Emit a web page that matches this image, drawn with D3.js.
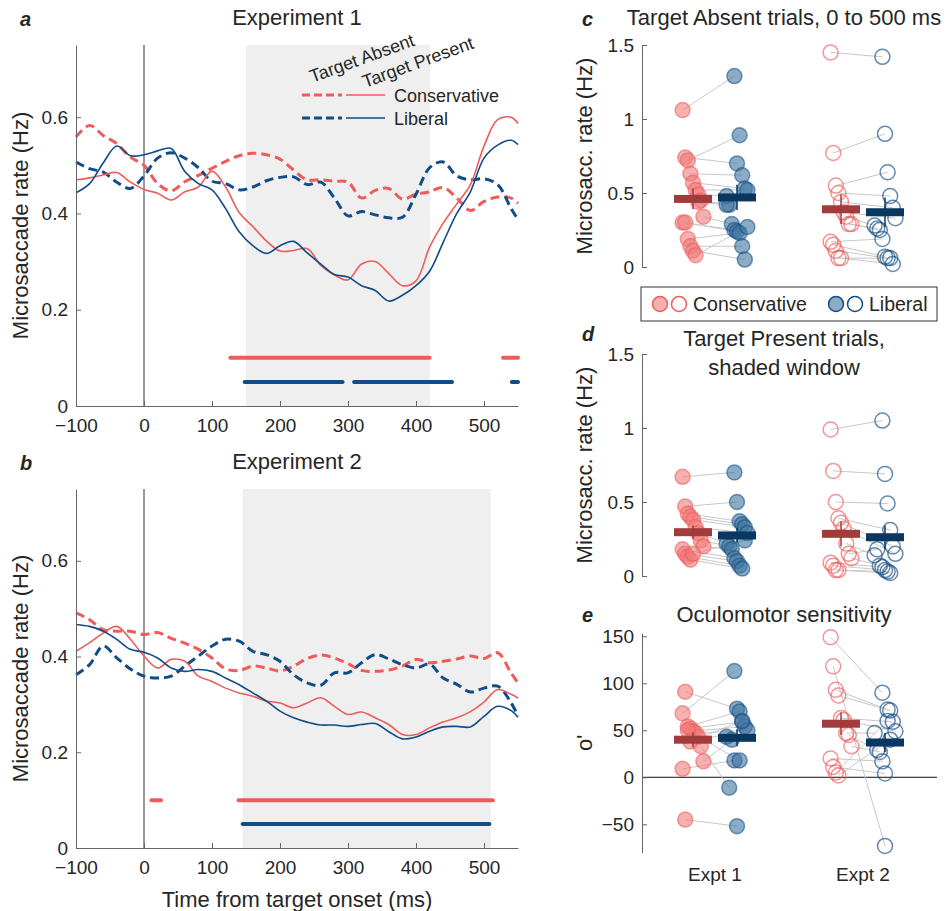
<!DOCTYPE html>
<html>
<head>
<meta charset="utf-8">
<script src="https://d3js.org/d3.v7.min.js"></script>
<style>
  body { margin: 0; background: #fff; }
  svg text { font-family: "Liberation Sans", Arial, Helvetica, sans-serif; fill: #262626; }
</style>
</head>
<body>
<svg id="fig" width="951" height="911"></svg>
<script>
// ---- time courses (ms, Hz) ----
var time = [-100,-80,-60,-40,-20,0,20,40,60,80,100,120,140,160,180,200,220,240,260,280,300,320,340,360,380,400,420,440,460,480,500,520,540,550];

// Experiment 1
var e1AbsCons  = [0.559,0.583,0.562,0.545,0.517,0.500,0.462,0.447,0.466,0.479,0.494,0.508,0.520,0.525,0.522,0.513,0.490,0.470,0.470,0.467,0.465,0.432,0.448,0.452,0.430,0.440,0.445,0.454,0.432,0.406,0.425,0.434,0.432,0.421];
var e1AbsLib   = [0.507,0.493,0.486,0.465,0.452,0.478,0.515,0.526,0.515,0.495,0.467,0.462,0.449,0.455,0.468,0.475,0.476,0.460,0.465,0.432,0.395,0.404,0.397,0.391,0.392,0.440,0.495,0.507,0.478,0.470,0.472,0.460,0.410,0.387];
var e1PresCons = [0.470,0.474,0.480,0.485,0.465,0.450,0.442,0.428,0.445,0.455,0.488,0.455,0.402,0.373,0.343,0.322,0.323,0.327,0.292,0.272,0.262,0.295,0.300,0.275,0.250,0.260,0.330,0.380,0.420,0.460,0.540,0.595,0.600,0.587];
var e1PresLib  = [0.443,0.462,0.505,0.540,0.520,0.522,0.530,0.535,0.487,0.462,0.449,0.410,0.362,0.333,0.317,0.333,0.342,0.318,0.295,0.273,0.268,0.250,0.240,0.218,0.230,0.250,0.280,0.340,0.400,0.445,0.515,0.542,0.552,0.543];

// Experiment 2
var e2AbsCons  = [0.491,0.477,0.456,0.453,0.453,0.446,0.450,0.438,0.428,0.415,0.397,0.374,0.371,0.380,0.376,0.370,0.380,0.396,0.403,0.397,0.385,0.371,0.369,0.372,0.380,0.394,0.387,0.390,0.395,0.401,0.396,0.408,0.365,0.345];
var e2AbsLib   = [0.362,0.383,0.422,0.397,0.374,0.359,0.355,0.359,0.380,0.401,0.422,0.436,0.432,0.411,0.404,0.390,0.362,0.345,0.340,0.366,0.366,0.387,0.404,0.395,0.383,0.376,0.384,0.355,0.342,0.326,0.334,0.338,0.303,0.275];
var e2PresCons = [0.411,0.429,0.449,0.463,0.436,0.401,0.376,0.394,0.390,0.359,0.348,0.334,0.324,0.317,0.307,0.303,0.293,0.303,0.314,0.296,0.279,0.284,0.272,0.258,0.237,0.237,0.251,0.263,0.272,0.285,0.305,0.331,0.321,0.313];
var e2PresLib  = [0.467,0.463,0.453,0.436,0.415,0.409,0.397,0.376,0.369,0.373,0.369,0.355,0.341,0.324,0.307,0.286,0.272,0.263,0.257,0.257,0.254,0.258,0.260,0.243,0.228,0.232,0.244,0.253,0.254,0.253,0.275,0.296,0.287,0.273];

// significant clusters and analysis windows (ms)
var sig1Cons = [[127,420],[528,550]];
var sig1Lib  = [[148,292],[309,453],[541,550]];
var sig2Cons = [[11,25],[139,513]];
var sig2Lib  = [[145,508]];
var win1 = [150,421];
var win2 = [145,510];

var timeTicks = [-100,0,100,200,300,400,500];
var rateTicks = [0,0.2,0.4,0.6];

// ---- per-observer values ----
var groups = ["Expt 1","Expt 2"];

// c: target absent, 0-500 ms (Hz)
var cE1Cons = [1.06,0.74,0.72,0.63,0.57,0.52,0.49,0.45,0.34,0.30,0.30,0.19,0.14,0.11,0.08,0.44];
var cE1Lib  = [1.29,0.70,0.89,0.62,0.53,0.52,0.48,0.42,0.29,0.25,0.24,0.23,0.14,0.05,0.27,0.42];
var cE2Cons = [1.45,0.77,0.55,0.50,0.44,0.37,0.34,0.29,0.29,0.17,0.15,0.11,0.06,0.06];
var cE2Lib  = [1.42,0.90,0.64,0.48,0.40,0.33,0.28,0.26,0.25,0.19,0.07,0.06,0.06,0.02];
var cMean = [0.46,0.47,0.39,0.37];
var cSem  = [0.07,0.085,0.10,0.10];

// d: target present, shaded window (Hz)
var dE1Cons = [0.67,0.47,0.42,0.40,0.38,0.33,0.29,0.24,0.20,0.18,0.15,0.13,0.11,0.15];
var dE1Lib  = [0.70,0.50,0.37,0.35,0.33,0.29,0.22,0.20,0.18,0.12,0.10,0.07,0.05,0.24];
var dE2Cons = [0.99,0.71,0.50,0.39,0.36,0.32,0.22,0.15,0.12,0.09,0.07,0.04,0.04];
var dE2Lib  = [1.05,0.69,0.49,0.31,0.20,0.15,0.14,0.18,0.07,0.06,0.04,0.03,0.02];
var dMean = [0.296,0.274,0.285,0.262];
var dSem  = [0.045,0.05,0.085,0.08];

// e: oculomotor sensitivity o'
var eE1Cons = [68,91,54,52,49,47,43,33,17,9,-45,50,38];
var eE1Lib  = [113,73,70,59,54,50,43,-11,40,18,-52,18,60];
var eE2Cons = [149,118,93,87,63,61,47,45,33,20,11,5,2];
var eE2Lib  = [90,-73,72,71,59,49,47,29,27,17,4,60,40];
var eMean = [40,42,57,37];
var eSem  = [8,9,12,10];

// ---- colours ----
var red = "#ef5b5b", blue = "#114c86";
var redDark = "#a23b3b", blueDark = "#0a375f";
var fillRed = "#f07c7c", fillBlue = "#40739f";

var svg = d3.select("#fig");
var fmt = d3.format("~g");

function tickStyle(g) {
  g.select(".domain").attr("stroke", "#666");
  g.selectAll(".tick line").attr("stroke", "#666");
  g.selectAll(".tick text").style("font-size", "19px").attr("fill", "#333");
}

// ---------- time course panels ----------
function timePanel(top, bottom, series, sigCons, sigLib, win, title, letter, showXLabel) {
  var x = d3.scaleLinear().domain([-100,550]).range([76,518]);
  var y = d3.scaleLinear().domain([0,0.75]).range([bottom, top]);
  var g = svg.append("g");

  g.append("rect")
    .attr("x", x(win[0])).attr("y", top)
    .attr("width", x(win[1]) - x(win[0])).attr("height", bottom - top)
    .attr("fill", "#efefef");

  g.append("line")
    .attr("x1", x(0)).attr("x2", x(0)).attr("y1", top).attr("y2", bottom)
    .attr("stroke", "#555").attr("stroke-width", 1.2);

  var line = d3.line()
    .x(function(d, i) { return x(time[i]); })
    .y(function(d) { return y(d); })
    .curve(d3.curveCatmullRom);

  series.forEach(function(s) {
    g.append("path")
      .attr("d", line(s.values))
      .attr("fill", "none")
      .attr("stroke", s.color)
      .attr("stroke-width", s.dashed ? 3 : 1.6)
      .attr("stroke-dasharray", s.dashed ? "9,5" : null);
  });

  sigCons.forEach(function(r) {
    g.append("line")
      .attr("x1", x(r[0])).attr("x2", x(r[1]))
      .attr("y1", y(0.1)).attr("y2", y(0.1))
      .attr("stroke", red).attr("stroke-width", 4).attr("stroke-linecap", "round");
  });
  sigLib.forEach(function(r) {
    g.append("line")
      .attr("x1", x(r[0])).attr("x2", x(r[1]))
      .attr("y1", y(0.05)).attr("y2", y(0.05))
      .attr("stroke", blue).attr("stroke-width", 4).attr("stroke-linecap", "round");
  });

  g.append("g")
    .attr("transform", "translate(0," + bottom + ")")
    .call(d3.axisBottom(x).tickValues(timeTicks).tickSizeInner(-5).tickSizeOuter(0).tickPadding(13))
    .call(tickStyle);
  g.append("g")
    .attr("transform", "translate(76,0)")
    .call(d3.axisLeft(y).tickValues(rateTicks).tickFormat(fmt).tickSizeInner(-5).tickSizeOuter(0).tickPadding(8))
    .call(tickStyle);

  g.append("text").attr("x", 297).attr("y", top - 20).attr("text-anchor", "middle")
    .style("font-size", "22px").text(title);
  g.append("text").attr("x", 20).attr("y", top - 19)
    .style("font-size", "20px").style("font-weight", "bold").style("font-style", "italic")
    .text(letter);
  g.append("text")
    .attr("transform", "translate(28," + ((top + bottom) / 2) + ") rotate(-90)")
    .attr("text-anchor", "middle").style("font-size", "22px")
    .text("Microsaccade rate (Hz)");
  if (showXLabel) {
    g.append("text").attr("x", 297).attr("y", bottom + 59).attr("text-anchor", "middle")
      .style("font-size", "22px").text("Time from target onset (ms)");
  }
}

timePanel(45, 406, [
  {values: e1AbsCons, color: red, dashed: true},
  {values: e1AbsLib, color: blue, dashed: true},
  {values: e1PresCons, color: red, dashed: false},
  {values: e1PresLib, color: blue, dashed: false}
], sig1Cons, sig1Lib, win1, "Experiment 1", "a", false);

timePanel(489, 848, [
  {values: e2AbsCons, color: red, dashed: true},
  {values: e2AbsLib, color: blue, dashed: true},
  {values: e2PresCons, color: red, dashed: false},
  {values: e2PresLib, color: blue, dashed: false}
], sig2Cons, sig2Lib, win2, "Experiment 2", "b", true);

// legend inside panel a
var lg = svg.append("g");
lg.append("text").attr("transform", "translate(364,64) rotate(-20)")
  .attr("text-anchor", "middle").style("font-size", "18px").text("Target Absent");
lg.append("text").attr("transform", "translate(420,68) rotate(-20)")
  .attr("text-anchor", "middle").style("font-size", "18px").text("Target Present");
[{c: red, y: 95, t: "Conservative"}, {c: blue, y: 118, t: "Liberal"}].forEach(function(r) {
  lg.append("line").attr("x1", 302).attr("x2", 342).attr("y1", r.y).attr("y2", r.y)
    .attr("stroke", r.c).attr("stroke-width", 3).attr("stroke-dasharray", "8,4");
  lg.append("line").attr("x1", 346).attr("x2", 385).attr("y1", r.y).attr("y2", r.y)
    .attr("stroke", r.c).attr("stroke-width", 1.6);
  lg.append("text").attr("x", 394).attr("y", r.y + 7).style("font-size", "18px").text(r.t);
});

// ---------- observer panels ----------
var gx = d3.scalePoint().domain(groups).range([715, 863]);
var off = 22;

function jitter(i) { return (((i * 37) % 9) - 4) * 2.6; }

function scatterPanel(top, bottom, domain, ticks, sets, means, sems, letter, titles, ylab, zeroLine) {
  var y = d3.scaleLinear().domain(domain).range([bottom, top]);
  var g = svg.append("g");

  if (zeroLine) {
    g.append("line").attr("x1", 642).attr("x2", 937).attr("y1", y(0)).attr("y2", y(0))
      .attr("stroke", "#111").attr("stroke-width", 1);
  }

  sets.forEach(function(s, k) {
    var xc = gx(groups[k]) - off, xl = gx(groups[k]) + off;
    var open = k === 1;
    // pair lines
    s[0].forEach(function(v, i) {
      g.append("line")
        .attr("x1", xc + jitter(i)).attr("y1", y(v))
        .attr("x2", xl + jitter(i + 3)).attr("y2", y(s[1][i]))
        .attr("stroke", "#c8c8c8").attr("stroke-width", 1);
    });
    [[s[0], xc, 0, fillRed, red], [s[1], xl, 3, fillBlue, blue]].forEach(function(p) {
      g.selectAll(null).data(p[0]).enter().append("circle")
        .attr("cx", function(d, i) { return p[1] + jitter(i + p[2]); })
        .attr("cy", function(d) { return y(d); })
        .attr("r", 7.5)
        .attr("fill", open ? "none" : p[3])
        .attr("fill-opacity", 0.6)
        .attr("stroke", p[4])
        .attr("stroke-opacity", open ? 0.65 : 0.55)
        .attr("stroke-width", 1.5);
    });
  });

  means.forEach(function(m, j) {
    var k = Math.floor(j / 2);
    var cx = gx(groups[k]) + (j % 2 === 0 ? -off : off);
    var col = j % 2 === 0 ? redDark : blueDark;
    g.append("rect").attr("x", cx - 19).attr("y", y(m) - 4).attr("width", 38).attr("height", 8)
      .attr("fill", col);
    g.append("line").attr("x1", cx).attr("x2", cx)
      .attr("y1", y(m - sems[j])).attr("y2", y(m + sems[j]))
      .attr("stroke", col).attr("stroke-width", 1.5);
  });

  g.append("g")
    .attr("transform", "translate(642,0)")
    .call(d3.axisLeft(y).tickValues(ticks).tickFormat(fmt).tickSizeInner(-5).tickSizeOuter(0).tickPadding(8))
    .call(tickStyle);

  g.append("text").attr("x", 582).attr("y", titles.letterY)
    .style("font-size", "20px").style("font-weight", "bold").style("font-style", "italic")
    .text(letter);
  titles.lines.forEach(function(t, i) {
    g.append("text").attr("x", 784).attr("y", titles.y + i * 29).attr("text-anchor", "middle")
      .style("font-size", "22px").text(t);
  });
  g.append("text")
    .attr("transform", "translate(" + ylab.x + "," + ((top + bottom) / 2) + ") rotate(-90)")
    .attr("text-anchor", "middle").style("font-size", "22px")
    .text(ylab.t);
  return y;
}

scatterPanel(45, 267, [0, 1.5], [0, 0.5, 1, 1.5],
  [[cE1Cons, cE1Lib], [cE2Cons, cE2Lib]], cMean, cSem, "c",
  {y: 25, letterY: 26, lines: ["Target Absent trials, 0 to 500 ms"]},
  {x: 592, t: "Microsacc. rate (Hz)"}, false);

scatterPanel(354, 576, [0, 1.5], [0, 0.5, 1, 1.5],
  [[dE1Cons, dE1Lib], [dE2Cons, dE2Lib]], dMean, dSem, "d",
  {y: 346, letterY: 341, lines: ["Target Present trials,", "shaded window"]},
  {x: 592, t: "Microsacc. rate (Hz)"}, false);

scatterPanel(633, 852.5, [-80, 153.5], [-50, 0, 50, 100, 150],
  [[eE1Cons, eE1Lib], [eE2Cons, eE2Lib]], eMean, eSem, "e",
  {y: 622, letterY: 622, lines: ["Oculomotor sensitivity"]},
  {x: 592, t: "o'"}, true);

// group labels
groups.forEach(function(gname) {
  svg.append("text").attr("x", gx(gname)).attr("y", 881).attr("text-anchor", "middle")
    .style("font-size", "19px").attr("fill", "#333").text(gname);
});

// scatter legend
var sl = svg.append("g");
sl.append("rect").attr("x", 641).attr("y", 287).attr("width", 296).attr("height", 34)
  .attr("fill", "#fff").attr("stroke", "#333").attr("stroke-width", 1);
[{x: 660, c: red, f: fillRed, t: "Conservative"}, {x: 836, c: blue, f: fillBlue, t: "Liberal"}].forEach(function(it) {
  sl.append("circle").attr("cx", it.x).attr("cy", 304).attr("r", 7.5)
    .attr("fill", it.f).attr("fill-opacity", 0.6).attr("stroke", it.c).attr("stroke-width", 1.5);
  sl.append("circle").attr("cx", it.x + 19).attr("cy", 304).attr("r", 7.5)
    .attr("fill", "none").attr("stroke", it.c).attr("stroke-width", 1.5);
  sl.append("text").attr("x", it.x + 33).attr("y", 311).style("font-size", "19.5px").text(it.t);
});
</script>
</body>
</html>
